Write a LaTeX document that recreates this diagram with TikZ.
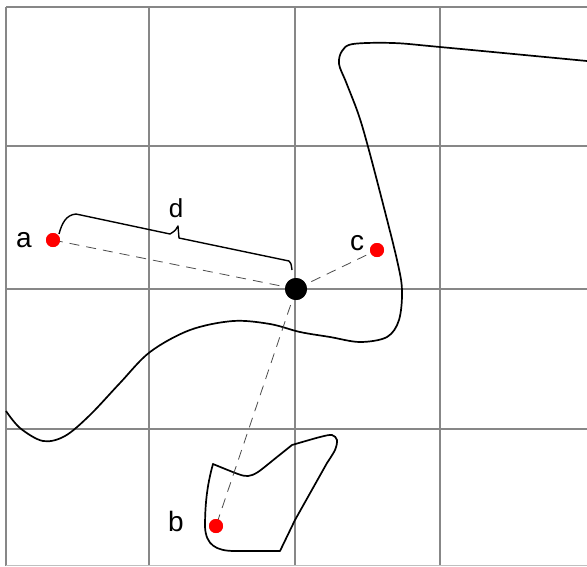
\documentclass[tikz,border=0pt]{standalone}
\usepackage{fontspec}
\setmainfont{Liberation Sans}
\begin{document}
\begin{tikzpicture}[x=1pt,y=-1pt,
  gridline/.style={draw=black!47, line width=1.6pt},
  curveline/.style={draw=black, line width=1.7pt, line join=round},
  dashline/.style={draw=black!70, line width=0.8pt, dash pattern=on 10pt off 7pt},
  reddot/.style={circle, fill=red, inner sep=0pt, minimum size=14pt},
  bigdot/.style={circle, fill=black, inner sep=0pt, minimum size=22pt},
  lbl/.style={inner sep=0pt, font=\fontsize{28}{30}\selectfont},
  lbld/.style={inner sep=0pt, font=\fontsize{26}{28}\selectfont}]
\useasboundingbox (0,0) rectangle (587,566);
\fill[white] (0,0) rectangle (587,566);
% grid
\foreach \gx in {6,149,295,440} \draw[gridline] (\gx,7) -- (\gx,566);
\foreach \gy in {7,146,289,429} \draw[gridline] (6,\gy) -- (587,\gy);
\draw[draw=black!25, line width=1pt] (6,565.5) -- (587,565.5);
% big curve
\draw[curveline] plot[smooth, tension=0.55] coordinates {(6,411) (20,428) (43,441) (65,436) (90,415) (120,383) (150,352) (190,330) (233,321) (270,324) (300,332) (330,337) (360,342) (387,337) (399,320) (402,290) (397,260) (382,200) (367,143) (358,113) (346,82) (339,64) (342,51) (353,44) (393,43) (440,47) (587,61)};
% small closed shape
\draw[curveline] plot[smooth, tension=0.5] coordinates {(213,464) (238,474) (248,476) (258,472) (277,457) (292,445)}
  -- plot[smooth, tension=0.5] coordinates {(292,445) (320,437) (332,435) (337,440) (335,450) (327,463)}
  -- (295,520) -- (280,551) -- (235,551) .. controls (216,551) and (206,545) .. (205,527)
  .. controls (205,500) and (208,482) .. (213,464) -- cycle;
% points
\node[bigdot] (o) at (296,289) {};
\node[reddot] (a) at (53,240) {};
\node[reddot] (b) at (216,526) {};
\node[reddot] (c) at (377,250) {};
\draw[dashline] (o.center) -- (a.center);
\draw[dashline] (o.center) -- (b.center);
\draw[dashline] (o.center) -- (c.center);
\node[bigdot] at (o) {};
\node[reddot] at (a) {};
\node[reddot] at (b) {};
\node[reddot] at (c) {};
% brace
\coordinate (bs) at (59,234);
\coordinate (be) at (292,270);
\draw[black, line width=1.4pt, line join=round] (bs) .. controls (62,223) and (66,215) .. (76,214)
  -- (170,234) .. controls (175,231) and (177,229) .. (178,226) -- (179,238) -- (289,261) .. controls (291,263) .. (be);
% labels
\node[lbl] (la) at (24,240) {a};
\node[lbl] (lb) at (176,521) {b};
\node[lbl] (lc) at (357,243) {c};
\node[lbld] (ld) at (176,208) {d};
\end{tikzpicture}
\end{document}
